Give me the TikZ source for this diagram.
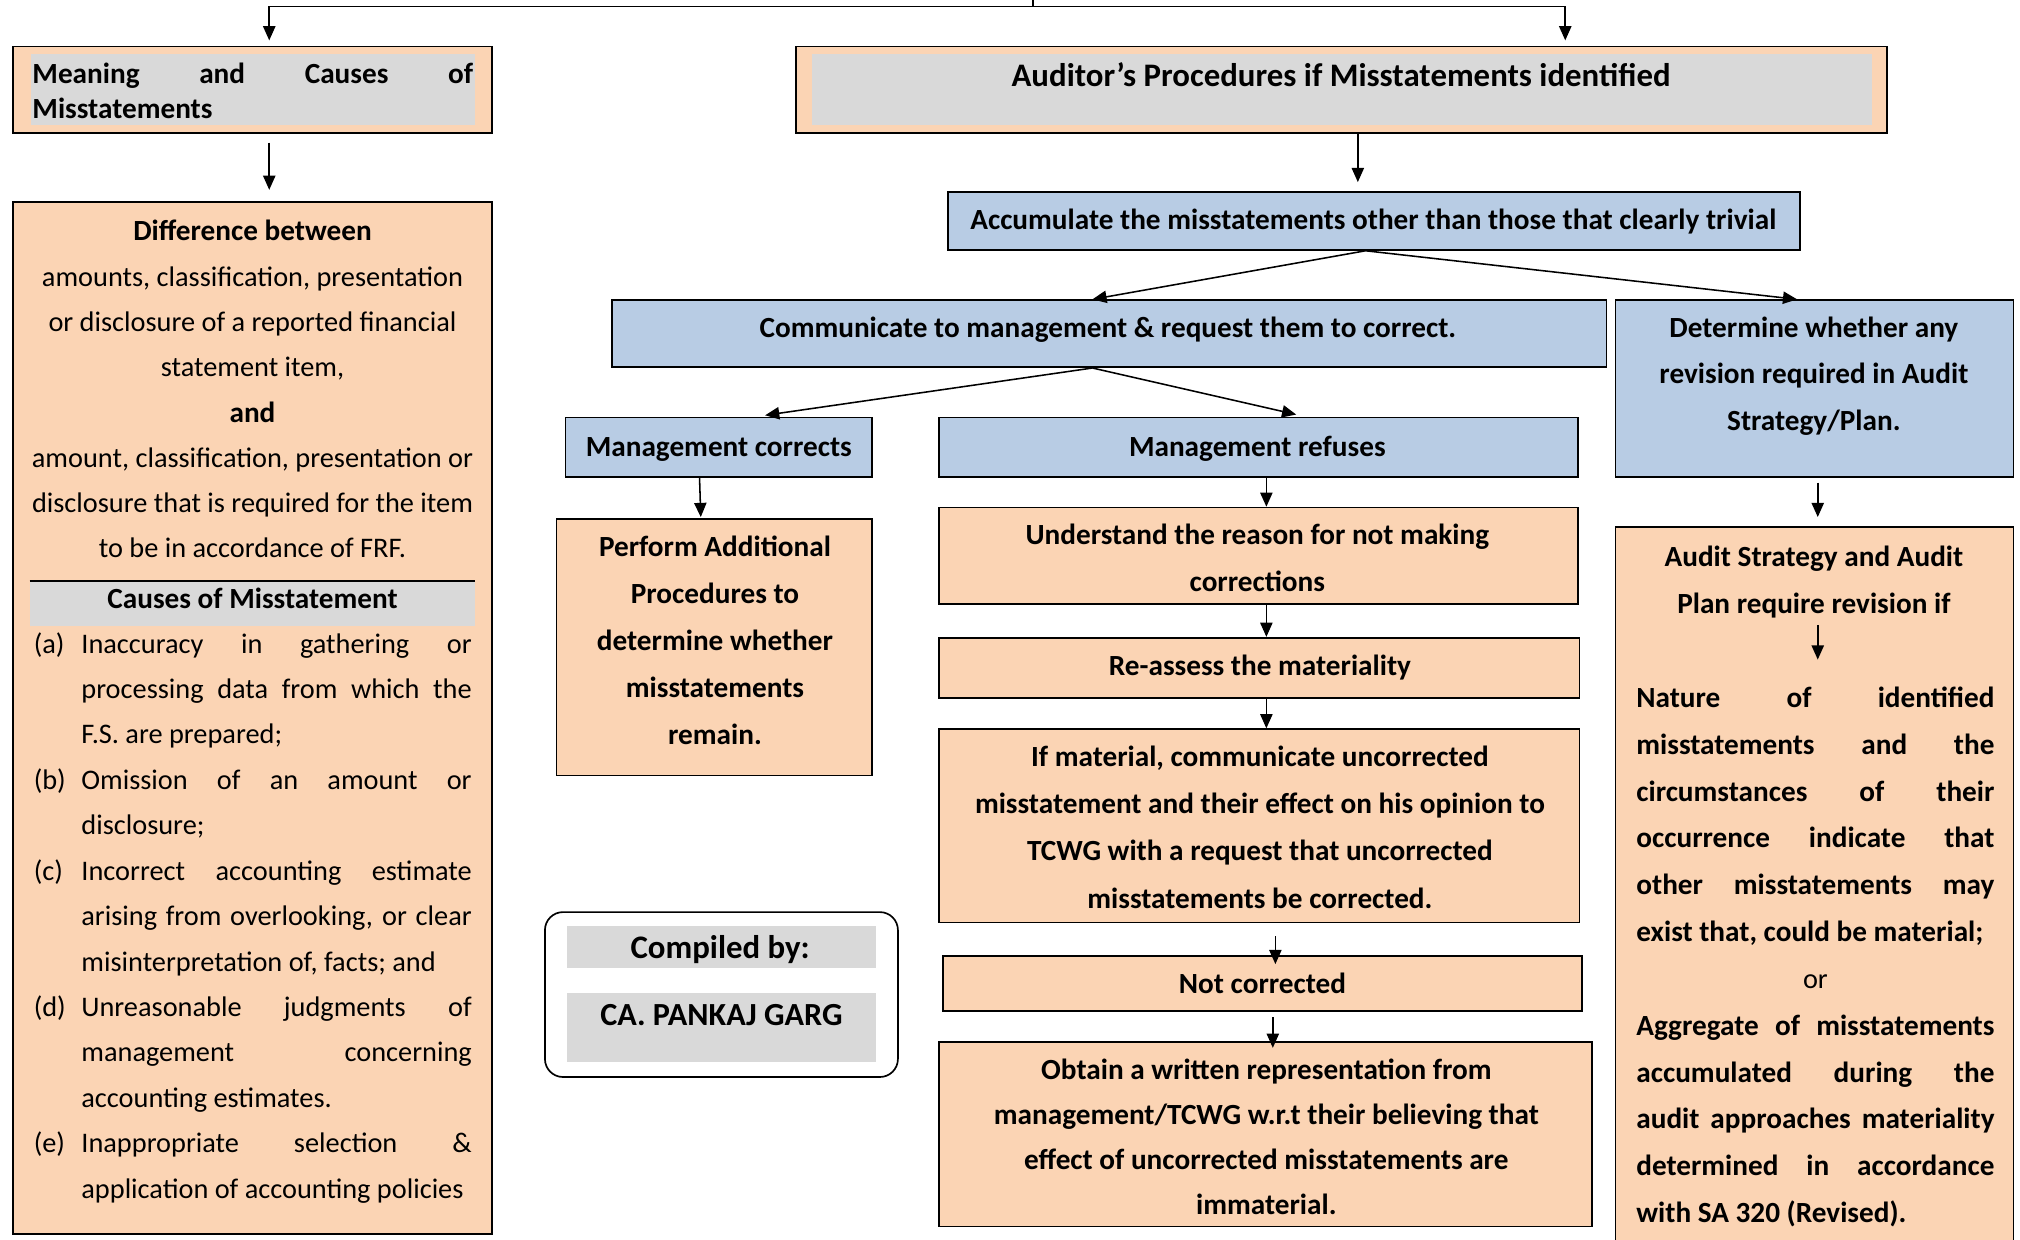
\documentclass[tikz,border=0pt]{standalone}
\usepackage{fontspec}
\setmainfont{Carlito}
\usetikzlibrary{arrows.meta}
\definecolor{peachc}{HTML}{FBD4B4}
\definecolor{bluec}{HTML}{B8CCE4}
\definecolor{grayc}{HTML}{D9D9D9}
\begin{document}
\begin{tikzpicture}[x=1pt,y=-1pt,
  box/.style={draw=black, line width=1.3pt, inner sep=0pt, rectangle},
  peach/.style={box, fill=peachc},
  bluebox/.style={box, fill=bluec},
  graybg/.style={fill=grayc, draw=none, inner sep=0pt, rectangle},
  txt/.style={inner sep=0pt, anchor=base, align=center, yshift=-2pt, font=\bfseries\fontsize{22.7}{36}\selectfont},
  conn/.style={line width=1.2pt, -{Triangle[length=11pt,width=9.5pt]}},
  plain/.style={line width=1.2pt}
]
\useasboundingbox[fill=white] (0,0) rectangle (1568,962);

% ---------- boxes ----------
\node[peach, minimum width=372pt, minimum height=67pt] (meaning) at (196,69.5) {};
\node[graybg, minimum width=345pt, minimum height=55pt] (meaningG) at (196.5,69.5) {};
\node[peach, minimum width=372pt, minimum height=801pt] (leftbig) at (196,557.5) {};
\node[peach, minimum width=847pt, minimum height=67pt] (auditor) at (1041.5,69.5) {};
\node[graybg, minimum width=823pt, minimum height=55pt] (auditorG) at (1041.5,69.5) {};
\node[bluebox, minimum width=661pt, minimum height=45pt] (accumulate) at (1066.5,171.5) {};
\node[bluebox, minimum width=772pt, minimum height=52pt] (communicate) at (861,259) {};
\node[bluebox, minimum width=309pt, minimum height=137pt] (determine) at (1408.5,301.5) {};
\node[bluebox, minimum width=238pt, minimum height=46pt] (mcorrects) at (558,347) {};
\node[bluebox, minimum width=496pt, minimum height=46pt] (mrefuses) at (977,347) {};
\node[peach, minimum width=245pt, minimum height=199pt] (perform) at (554.5,502.5) {};
\node[peach, minimum width=496pt, minimum height=75pt] (understand) at (977,431.5) {};
\node[peach, minimum width=497pt, minimum height=47pt] (reassess) at (977.5,518.5) {};
\node[peach, minimum width=497pt, minimum height=150pt] (ifmaterial) at (977.5,641) {};
\node[peach, minimum width=496pt, minimum height=43pt] (notcorrected) at (980,763.5) {};
\node[peach, minimum width=507pt, minimum height=143pt] (obtain) at (982.5,880.5) {};
\node[peach, minimum width=309pt, minimum height=557pt] (auditstrategy) at (1408.5,687.5) {};
\node[box, fill=white, rounded corners=14pt, minimum width=274pt, minimum height=128pt] (compiled) at (560,772) {};
\node[graybg, minimum width=240pt, minimum height=32pt] (compiledG1) at (560,735) {};
\node[graybg, minimum width=240pt, minimum height=53pt] (compiledG2) at (560,797.5) {};

% causes band
\node[graybg, minimum width=346pt, minimum height=35pt] (causesG) at (196,468.5) {};
\coordinate (sepL) at (23,451);
\coordinate (sepR) at (369,451);
\draw[line width=1.6pt] (sepL) -- (sepR);

% ---------- texts (anchor=base = baseline of the LAST line) ----------
\node[txt, anchor=base west, align=left, font=\bfseries\fontsize{22.7}{27}\selectfont] (tMeaning) at (25,90)
  {\makebox[342pt][s]{Meaning and Causes of}\\Misstatements};
\node[txt, font=\fontsize{22}{35.14}\selectfont] (tDiff) at (196,431)
  {\textbf{\fontsize{22.7}{35.14}\selectfont Difference between}\\amounts, classification, presentation\\or disclosure of a reported financial\\statement item,\\\textbf{\fontsize{22.7}{35.14}\selectfont and}\\amount, classification, presentation or\\disclosure that is required for the item\\to be in accordance of FRF.};
\node[txt] (tCauses) at (196,470) {Causes of Misstatement};
\node[txt, anchor=base west, align=left, font=\fontsize{22}{35.25}\selectfont] (tList) at (26,928)
  {\makebox[37pt][l]{(a)}\makebox[303pt][s]{Inaccuracy in gathering or}\\
   \hspace*{37pt}\makebox[303pt][s]{processing data from which the}\\
   \hspace*{37pt}F.S. are prepared;\\
   \makebox[37pt][l]{(b)}\makebox[303pt][s]{Omission of an amount or}\\
   \hspace*{37pt}disclosure;\\
   \makebox[37pt][l]{(c)}\makebox[303pt][s]{Incorrect accounting estimate}\\
   \hspace*{37pt}\makebox[303pt][s]{arising from overlooking, or clear}\\
   \hspace*{37pt}misinterpretation of, facts; and\\
   \makebox[37pt][l]{(d)}\makebox[303pt][s]{Unreasonable judgments of}\\
   \hspace*{37pt}\makebox[303pt][s]{management concerning}\\
   \hspace*{37pt}accounting estimates.\\
   \makebox[37pt][l]{(e)}\makebox[303pt][s]{Inappropriate selection \&}\\
   \hspace*{37pt}application of accounting policies};

\node[txt, font=\bfseries\fontsize{25.5}{30}\selectfont] (tAuditor) at (1041,65) {Auditor’s Procedures if Misstatements identified};
\node[txt] (tAccum) at (1066,176) {Accumulate the misstatements other than those that clearly trivial};
\node[txt] (tComm) at (860,260) {Communicate to management \& request them to correct.};
\node[txt] (tDet) at (1408,332) {Determine whether any\\revision required in Audit\\Strategy/Plan.};
\node[txt] (tMC) at (558,352) {Management corrects};
\node[txt] (tMR) at (976,352) {Management refuses};
\node[txt, font=\bfseries\fontsize{22.7}{36.5}\selectfont] (tPerf) at (555,576) {Perform Additional\\Procedures to\\determine whether\\misstatements\\remain.};
\node[txt] (tUnd) at (976,457) {Understand the reason for not making\\corrections};
\node[txt] (tRe) at (978,522) {Re-assess the materiality};
\node[txt, font=\bfseries\fontsize{22.7}{36.7}\selectfont] (tIf) at (978,703) {If material, communicate uncorrected\\misstatement and their effect on his opinion to\\TCWG with a request that uncorrected\\misstatements be corrected.};
\node[txt] (tNot) at (980,769) {Not corrected};
\node[txt, font=\bfseries\fontsize{22.7}{35}\selectfont] (tObt) at (983,941) {Obtain a written representation from\\management/TCWG w.r.t their believing that\\effect of uncorrected misstatements are\\immaterial.};
\node[txt] (tAS) at (1408,474) {Audit Strategy and Audit\\Plan require revision if};
\node[txt, anchor=base west, align=left, font=\bfseries\fontsize{22.7}{36.36}\selectfont] (tNat) at (1270,947)
  {\makebox[278pt][s]{Nature of identified}\\
   \makebox[278pt][s]{misstatements and the}\\
   \makebox[278pt][s]{circumstances of their}\\
   \makebox[278pt][s]{occurrence indicate that}\\
   \makebox[278pt][s]{other misstatements may}\\
   exist that, could be material;\\
   \makebox[278pt][c]{\mdseries\fontsize{22}{36.36}\selectfont or}\\
   \makebox[278pt][s]{Aggregate of misstatements}\\
   \makebox[278pt][s]{accumulated during the}\\
   \makebox[278pt][s]{audit approaches materiality}\\
   \makebox[278pt][s]{determined in accordance}\\
   with SA 320 (Revised).};
\node[txt, font=\bfseries\fontsize{25.5}{30}\selectfont] (tComp) at (559,742) {Compiled by:};
\node[txt, font=\bfseries\fontsize{25}{30}\selectfont] (tCA) at (560,794) {CA. PANKAJ GARG};

% ---------- connectors ----------
\coordinate (top) at (802,-1);
\coordinate (topj) at (802,5);
\draw[plain] (top) -- (topj);
\draw[conn, shorten >=4pt] (topj) -| ([xshift=13pt]meaning.north);
\draw[conn, shorten >=4pt] (topj) -| ([xshift=173.5pt]auditor.north);
\draw[conn, shorten <=7pt, shorten >=9pt] ([xshift=13pt]meaning.south) -- ([xshift=13pt]leftbig.north);
\draw[conn, shorten >=7pt] ([xshift=12.5pt]auditor.south) -- ([xshift=-12.5pt]accumulate.north);
\draw[conn] ([xshift=-6.5pt]accumulate.south) -- ([xshift=-13pt]communicate.north);
\draw[conn] ([xshift=-6.5pt]accumulate.south) -- ([xshift=-13.5pt]determine.north);
\draw[conn, shorten >=7pt] ([xshift=-13pt]communicate.south) -- ([xshift=29pt]mcorrects.north);
\draw[conn, shorten >=7pt] ([xshift=-13pt]communicate.south) -- ([xshift=36pt]mrefuses.north);
\draw[conn, shorten >=1pt] ([xshift=-15pt]mcorrects.south) -- ([xshift=-10.5pt]perform.north);
\draw[conn] ([xshift=6pt]mrefuses.south) -- ([xshift=6pt]understand.north);
\draw[conn] ([xshift=6pt]understand.south) -- ([xshift=5.5pt]reassess.north);
\draw[conn] ([xshift=5.5pt]reassess.south) -- ([xshift=5.5pt]ifmaterial.north);
\draw[conn, shorten <=10pt, shorten >=-7pt] ([xshift=12.5pt]ifmaterial.south) -- ([xshift=10pt]notcorrected.north);
\draw[conn, shorten <=4pt, shorten >=-5pt] ([xshift=8pt]notcorrected.south) -- ([xshift=5.5pt]obtain.north);
\draw[conn, shorten <=4pt, shorten >=7pt] ([xshift=2.5pt]determine.south) -- ([xshift=2.5pt]auditstrategy.north);
\coordinate (asA) at (1411,485);
\coordinate (asB) at (1411,512);
\draw[conn] (asA) -- (asB);
\end{tikzpicture}
\end{document}
